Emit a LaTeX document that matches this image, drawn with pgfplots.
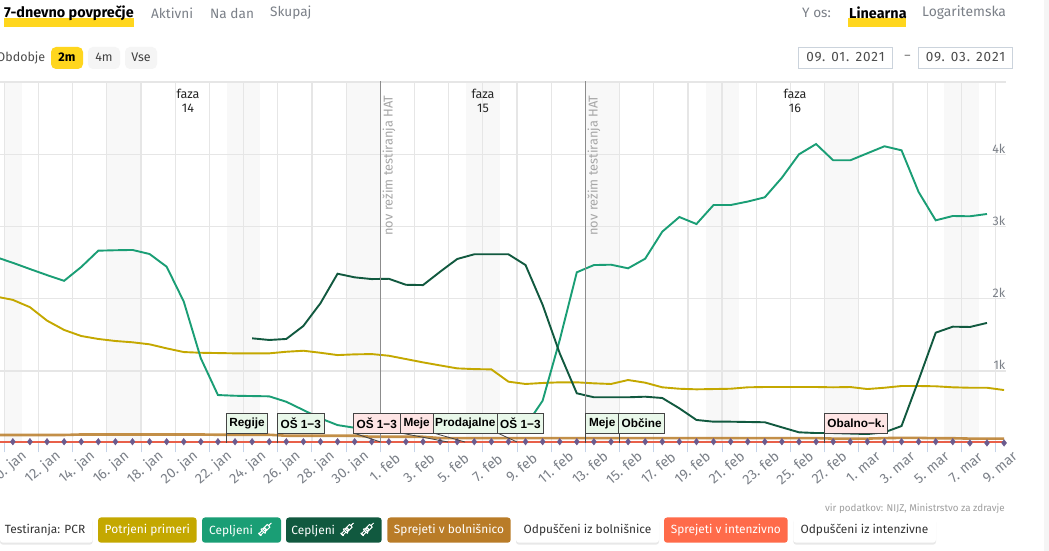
\documentclass[border=0pt]{standalone}
\usepackage{fontspec}
\usepackage{pgfplots}
\usepackage{pgfplotstable}
\pgfplotsset{compat=1.18}
\usetikzlibrary{shadows}
\setmainfont{Fira Sans}
\newfontfamily\boxfont{Liberation Sans}
\newfontfamily\emojifont[FakeBold=2]{Noto Emoji}
\newcommand{\fs}[1]{\fontsize{#1}{#1}\selectfont}
\definecolor{cyellow}{HTML}{C4A800}
\definecolor{cteal}{HTML}{1A9E75}
\definecolor{cdark}{HTML}{11593F}
\definecolor{corange}{HTML}{B97C28}
\definecolor{cred}{HTML}{E8604A}
\definecolor{cbred}{HTML}{FF6B4A}
\definecolor{cpurple}{HTML}{6B5B8E}
\definecolor{cgrid}{HTML}{E6E6E6}
\definecolor{cband}{HTML}{F8F8F8}
\definecolor{ctick}{HTML}{C5D3E8}
\definecolor{ctext}{HTML}{7B8088}
\definecolor{cactive}{HTML}{FFD61E}
\definecolor{cgreenbox}{HTML}{E9F8EA}
\definecolor{cpinkbox}{HTML}{FEE5E5}
\definecolor{cboxline}{HTML}{444444}
\definecolor{cfield}{HTML}{CBD3DC}
\definecolor{cbtn}{HTML}{F5F5F5}
\pgfplotstableread{
d y t k o r p
9.5 2032 2578 nan 115 22 22
10.5 1985 2498 nan 115 22 22
11.5 1884 2412 nan 115 22 22
12.5 1698 2328 nan 115 22 22
13.5 1569 2249 nan 115 22 22
14.5 1485 2440 nan 122 22 22
15.5 1444 2666 nan 122 22 22
16.5 1416 2672 nan 122 22 22
17.5 1398 2676 nan 122 22 22
18.5 1370 2620 nan 122 22 22
19.5 1314 2444 nan 122 22 22
20.5 1263 1962 nan 122 22 22
21.5 1253 1176 nan 122 22 22
22.5 1249 668 nan 118 22 22
23.5 1245 658 nan 118 22 22
24.5 1245 654 1453 118 22 22
25.5 1245 650 1430 118 22 22
26.5 1267 575 1444 105 22 22
27.5 1281 460 1624 105 22 22
28.5 1253 345 1939 105 22 22
29.5 1221 252 2347 105 22 22
30.5 1231 215 2297 105 22 22
31.5 1235 205 2273 90 22 22
32.5 1212 200 2277 90 22 22
33.5 1166 195 2194 90 22 22
34.5 1120 195 2190 90 22 22
35.5 1078 190 2374 72 22 22
36.5 1037 190 2551 72 22 22
37.5 1027 190 2616 72 22 22
38.5 1023 190 2616 72 22 22
39.5 853 195 2616 72 22 22
40.5 821 238 2467 72 22 22
41.5 835 590 1916 72 22 22
42.5 844 1430 1245 72 22 22
43.5 844 2367 692 72 22 22
44.5 830 2467 637 72 22 22
45.5 821 2472 637 72 22 22
46.5 876 2422 637 72 22 22
47.5 839 2555 645 72 22 22
48.5 775 2929 627 72 22 22
49.5 755 3132 484 72 22 22
50.5 747 3035 323 72 22 22
51.5 751 3298 299 72 22 22
52.5 755 3298 299 72 22 22
53.5 775 3346 295 72 22 22
54.5 779 3405 291 72 22 22
55.5 779 3676 221 72 22 22
56.5 779 4000 152 72 22 22
57.5 779 4142 142 72 22 22
58.5 775 3917 142 65 22 22
59.5 779 3917 135 65 22 22
60.5 751 4014 128 65 22 22
61.5 769 4111 152 72 22 22
62.5 793 4055 239 75 22 22
63.5 793 3478 876 75 22 22
64.5 789 3086 1531 70 22 22
65.5 775 3146 1614 70 22 22
66.5 769 3142 1610 65 22 5
67.5 769 3174 1666 65 22 5
68.5 737 nan nan 65 22 5
}\datatable
\begin{document}
\begin{tikzpicture}
\useasboundingbox (0,0) rectangle (1049pt,551pt);
\clip (0,0) rectangle (1049pt,551pt);
\fill[white] (0,0) rectangle (1049pt,551pt);
\begin{scope}[x=1pt,y=-1pt,shift={(0,551pt)}]
\fill[cbtn] (1044,0) rectangle (1049,551);
\foreach \a/\b in {5/21.7,106.7/140,226.7/260,346.7/380,466/500,586/620,705.7/739.3,824.3/859,944.3/978.7}{
  \fill[cband] (\a,82) rectangle (\b,443.3);
}
\end{scope}
\begin{axis}[
  at={(0pt,107.7pt)}, anchor=south west,
  scale only axis, width=1005.5pt, height=361.25pt,
  xmin=9.748, xmax=68.585, ymin=0, ymax=5000,
  clip=false,
  unbounded coords=jump,
  axis line style={draw=none},
  xtick={10,12,...,68},
  xticklabels={10. jan,12. jan,14. jan,16. jan,18. jan,20. jan,22. jan,24. jan,26. jan,28. jan,30. jan,1. feb,3. feb,5. feb,7. feb,9. feb,11. feb,13. feb,15. feb,17. feb,19. feb,21. feb,23. feb,25. feb,27. feb,1. mar,3. mar,5. mar,7. mar,9. mar},
  ytick={1000,2000,3000,4000,5000},
  yticklabels={1k,2k,3k,4k,},
  xtick pos=bottom, ytick pos=right,
  tick align=outside, major tick length=9pt,
  x tick style={ctick,line width=0.9pt},
  y tick style={draw=none},
  grid=major, major grid style={cgrid,line width=1.2pt},
  xticklabel style={font=\fs{14},text=ctext,rotate=40,anchor=center,xshift=-6.5pt,yshift=-14.5pt,inner sep=0pt},
  yticklabel pos=right,
  yticklabel style={font=\fs{12.5},text=ctext,anchor=south east,inner sep=0pt,xshift=-9pt,yshift=1pt},
]
\addplot[corange,line width=2.6pt,opacity=0.85,forget plot] table[x=d,y=o]{\datatable};
\addplot[cyellow,line width=1.9pt,forget plot] table[x=d,y=y]{\datatable};
\addplot[cteal,line width=1.9pt,forget plot] table[x=d,y=t]{\datatable};
\addplot[cdark,line width=1.9pt,forget plot] table[x=d,y=k]{\datatable};
\addplot[cred,line width=2.2pt,forget plot] table[x=d,y=r]{\datatable};
\addplot[draw=none,mark=diamond*,mark size=3.3pt,mark options={fill=cpurple,draw=cpurple},forget plot] table[x=d,y=p]{\datatable};
\end{axis}
\begin{scope}[x=1pt,y=-1pt,shift={(0,551pt)},every node/.style={inner sep=0pt}]
% vertical markers
\foreach \x in {380.6,585.4}{ \draw[black!45,line width=0.9pt] (\x,81.5) -- (\x,443); }
\node[rotate=90,text=black!35,font=\fs{12.8}] at (389,165.5) {nov režim testiranja HAT};
\node[rotate=90,text=black!35,font=\fs{12.8}] at (594,165.5) {nov režim testiranja HAT};
% phases
\foreach \x/\n in {188/14,483/15,795/16}{
  \node[font=\fs{12.5},text=black!85] at (\x,93.5) {faza};
  \node[font=\fs{12.5},text=black!85] at (\x,108.5) {\n};
}
% annotation stems
\draw[cboxline,line width=0.8pt] (226.5,433) -- (226.5,443);
\draw[cboxline,line width=0.8pt] (277.5,433) -- (277.5,443);
\draw[cboxline,line width=0.8pt] (585.5,433) -- (585.5,443);
\draw[cboxline,line width=0.8pt] (618.9,433) -- (618.9,443);
\draw[cboxline,line width=0.8pt] (824.5,433) -- (824.5,443);
\draw[cboxline,line width=0.8pt] (353.5,433) -- (380.5,442);
\draw[cboxline,line width=0.8pt] (400.5,433) -- (448,442);
\draw[cboxline,line width=0.8pt] (433.5,433) -- (465,442);
\draw[cboxline,line width=0.8pt] (497.5,433) -- (517,442);
% annotation boxes
\foreach \a/\b/\c/\t in {226.5/267.7/cgreenbox/Regije,277.5/324/cgreenbox/OŠ 1−3,353.5/400/cpinkbox/OŠ 1−3,400/433.3/cpinkbox/Meje,433.3/497.3/cgreenbox/Prodajalne,497.3/543.5/cgreenbox/OŠ 1−3,585.5/618.9/cgreenbox/Meje,618.9/664.3/cgreenbox/Občine,824.5/887.7/cpinkbox/Obalno−k.}{
  \filldraw[fill=\c,draw=cboxline,line width=0.9pt] (\a,413.3) rectangle (\b,433.3);
  \node[font=\boxfont\bfseries\fs{11.8},text=black] at ({(\a+\b)/2},423.3) {\t};
}
% header tabs
\fill[cactive] (4,18.3) rectangle (134,26.7);
\node[anchor=west,font=\bfseries\fs{14.4},text=black] at (4,13) {7-dnevno povprečje};
\foreach \x/\t in {151/Aktivni,210/Na dan,270/Skupaj}{
  \node[anchor=west,font=\fs{13.6},text=ctext] at (\x,13) {\t};
}
\node[anchor=west,font=\fs{13.6},text=ctext] at (802,13) {Y os:};
\fill[cactive] (848,18.3) rectangle (906,26.7);
\node[anchor=west,font=\bfseries\fs{14.4},text=black] at (849,13) {Linearna};
\node[anchor=west,font=\fs{13.9},text=ctext] at (922,13) {Logaritemska};
% period
\node[anchor=east,font=\fs{12.5},text=black!70] at (45.5,58) {Obdobje};
\fill[cactive,rounded corners=5pt] (51,47) rectangle (83,69);
\node[font=\bfseries\fs{12.5},text=black] at (67,57.5) {2m};
\fill[cbtn,rounded corners=5pt] (88,47) rectangle (120,69);
\node[font=\fs{12.5},text=black!75] at (104,57.5) {4m};
\fill[cbtn,rounded corners=5pt] (125,47) rectangle (157,69);
\node[font=\fs{12.5},text=black!75] at (141,57.5) {Vse};
% dates
\draw[cfield,line width=0.8pt] (798.5,47.5) rectangle (892.7,68.5);
\draw[cfield,line width=0.8pt] (918.5,47.5) rectangle (1012.7,68.5);
\node[font=\fs{13.5}\addfontfeatures{LetterSpace=7},text=black!70] at (845.5,57.5) {09. 01. 2021};
\node[font=\fs{13.5}\addfontfeatures{LetterSpace=7},text=black!70] at (965.5,57.5) {09. 03. 2021};
\node[font=\fs{12},text=black!60] at (907.5,57.5) {–};
% source
\node[anchor=east,font=\fs{9.8},text=black!38] at (1005,508.5) {vir podatkov: NIJZ, Ministrstvo za zdravje};
% legend
\foreach \a/\b in {0/92.7,516/659,793.3/936}{
  \fill[white,rounded corners=3pt,drop shadow={opacity=0.18,shadow xshift=0pt,shadow yshift=-2pt}] (\a,517.5) rectangle (\b,542.7);
}
\node[font=\fs{11.9},text=black!80] at (45,530) {Testiranja: PCR};
\node[font=\fs{11.9},text=black!80] at (587.5,530) {Odpuščeni iz bolnišnice};
\node[font=\fs{11.9},text=black!80] at (864.5,530) {Odpuščeni iz intenzivne};
\foreach \a/\b/\c/\t in {98/196.7/cyellow/Potrjeni primeri,387.3/510.7/corange/Sprejeti v bolnišnico,664/787.7/cbred/Sprejeti v intenzivno}{
  \fill[\c,rounded corners=3pt] (\a,517.5) rectangle (\b,542.7);
  \node[font=\fs{11.9},text=white] at ({(\a+\b)/2},530) {\t};
}
\fill[cteal,rounded corners=3pt] (202,517.5) rectangle (281,542.7);
\node[font=\fs{11.9},text=white] at (241.5,530) {Cepljeni {\emojifont\fs{14}💉}};
\fill[cdark,rounded corners=3pt] (286,517.5) rectangle (381.7,542.7);
\node[font=\fs{11.9},text=white] at (333.8,530) {Cepljeni {\emojifont\fs{14}💉\,💉}};
\end{scope}
\end{tikzpicture}
\end{document}
